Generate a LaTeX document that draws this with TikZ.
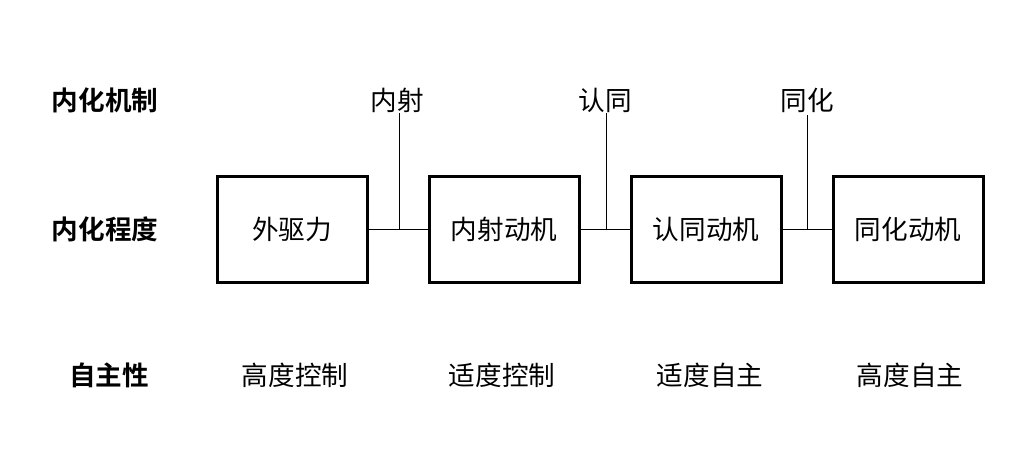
\documentclass[tikz,border=0pt]{standalone}
\usepackage{fontspec}
\newfontfamily\cjk{Noto Sans CJK SC}
\newfontfamily\cjkb{Noto Sans CJK SC Bold}
\begin{document}
\begin{tikzpicture}[x=1pt,y=-1pt,
  lbl/.style={font=\cjk\fontsize{26.6}{30}\selectfont, inner sep=0pt},
  side/.style={font=\cjkb\fontsize{26.6}{30}\selectfont, inner sep=0pt},
  stagebox/.style={draw, line width=3pt, minimum width=150pt, minimum height=106pt, inner sep=0pt, font=\cjk\fontsize{26.6}{30}\selectfont},
  conn/.style={line width=1pt}]
\useasboundingbox (0,0) rectangle (1024,456);
\node[stagebox] (b1) at (292,229) {外驱力};
\node[stagebox] (b2) at (504,229) {内射动机};
\node[stagebox] (b3) at (706,229) {认同动机};
\node[stagebox] (b4) at (908,229) {同化动机};
\node[side] (s1) at (105,100) {内化机制};
\node[side] (s2) at (105,229) {内化程度};
\node[side] (s3) at (109,375) {自主性};
\node[lbl] (m1) at (397,100) {内射};
\node[lbl] (m2) at (605,100) {认同};
\node[lbl] (m3) at (807,100) {同化};
\node[lbl] (d1) at (295,375) {高度控制};
\node[lbl] (d2) at (502,375) {适度控制};
\node[lbl] (d3) at (710,375) {适度自主};
\node[lbl] (d4) at (910,375) {高度自主};
\draw[conn] (b1.east) -- (b2.west);
\draw[conn] (b2.east) -- (b3.west);
\draw[conn] (b3.east) -- (b4.west);
\coordinate (j1) at (399,229);
\coordinate (j2) at (606,229);
\coordinate (j3) at (807,229);
\draw[conn] (m1.south -| j1) ++(0,1) -- (j1);
\draw[conn] (m2.south -| j2) ++(0,1) -- (j2);
\draw[conn] (m3.south -| j3) ++(0,3) -- (j3);
\end{tikzpicture}
\end{document}
